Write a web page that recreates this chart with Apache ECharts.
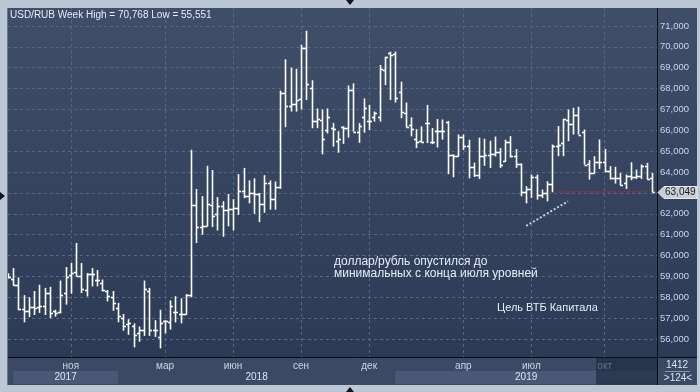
<!DOCTYPE html>
<html>
<head>
<meta charset="utf-8">
<script src="https://cdn.jsdelivr.net/npm/echarts@6/dist/echarts.min.js"></script>
<style>
html, body { margin: 0; padding: 0; background: #bcc7d6; }
#main { width: 700px; height: 392px; }
</style>
</head>
<body>
<div id="main"></div>
<script>
// weekly USD/RUB bars, Sep 2017 - Nov 2019
var open = [59.05, 58.88, 58.60, 57.42, 57.35, 57.55, 57.55, 57.60, 58.20, 57.34,
    57.30, 58.20, 59.05, 59.20, 59.00, 58.35, 59.13, 58.84, 58.70, 58.30,
    58.00, 57.50, 57.00, 56.70, 56.60, 56.30, 56.45, 58.30, 56.45, 56.10,
    56.85, 56.80, 57.30, 57.20, 57.20, 58.12, 62.40, 61.35, 61.40, 62.40,
    62.00, 62.35, 62.20, 62.25, 62.30, 63.10, 62.85, 63.00, 62.95, 62.45,
    63.50, 62.70, 63.30, 67.80, 67.15, 67.25, 67.50, 69.95, 68.05, 66.45,
    66.50, 66.00, 66.10, 65.50, 66.15, 66.10, 67.93, 65.94, 66.66, 66.45,
    66.66, 66.66, 68.89, 69.69, 69.64, 67.85, 66.85, 66.26, 65.58, 65.50,
    66.35, 65.46, 65.98, 65.96, 66.40, 64.80, 64.75, 65.70, 65.25, 64.25,
    63.85, 64.75, 64.80, 64.85, 64.95, 64.55, 65.45, 64.76, 64.40, 63.05,
    63.20, 63.75, 62.90, 63.00, 63.45, 65.25, 65.40, 66.50, 66.30, 66.75,
    65.90, 64.40, 63.95, 64.50, 64.50, 64.05, 63.70, 63.70, 63.50, 63.80,
    63.75, 63.80, 64.30, 63.70];
var high = [59.15, 59.40, 58.95, 58.10, 58.00, 58.30, 58.60, 58.45, 58.50, 57.40,
    58.80, 59.45, 59.64, 60.60, 59.64, 59.16, 59.40, 59.30, 58.85, 58.35,
    58.30, 57.73, 57.20, 56.95, 56.75, 56.60, 58.80, 58.45, 56.90, 57.40,
    56.90, 57.85, 58.05, 57.95, 58.15, 65.07, 63.19, 62.85, 64.30, 64.10,
    62.80, 62.60, 62.95, 62.70, 63.90, 64.20, 63.60, 63.70, 63.00, 63.85,
    63.60, 63.55, 67.90, 69.40, 69.00, 68.95, 70.10, 70.77, 68.40, 67.05,
    67.00, 67.05, 66.35, 65.95, 66.20, 68.15, 68.25, 66.35, 67.53, 67.22,
    66.90, 69.13, 69.53, 69.77, 69.77, 68.33, 67.33, 66.62, 66.06, 66.19,
    67.22, 66.11, 66.54, 66.52, 66.45, 64.85, 65.80, 65.80, 65.55, 64.45,
    65.65, 65.60, 65.50, 65.70, 65.15, 65.55, 65.72, 65.10, 64.41, 63.32,
    63.88, 63.88, 63.16, 63.56, 65.32, 66.20, 66.55, 67.00, 67.08, 67.13,
    66.04, 64.57, 64.76, 65.56, 65.11, 64.28, 64.25, 63.96, 63.88, 64.47,
    64.12, 64.36, 64.44, 63.96];
var low = [58.90, 58.55, 57.38, 56.80, 57.05, 57.15, 57.25, 57.15, 57.00, 57.07,
    57.23, 57.65, 58.17, 59.00, 58.20, 58.04, 58.52, 58.52, 58.28, 57.80,
    57.35, 56.80, 56.40, 56.20, 55.60, 55.87, 56.15, 56.15, 56.10, 55.55,
    56.27, 56.45, 56.80, 56.75, 57.17, 58.00, 60.60, 61.00, 61.40, 61.37,
    61.20, 60.90, 61.40, 61.20, 61.95, 62.75, 62.50, 62.00, 61.60, 62.05,
    62.20, 62.20, 63.20, 66.15, 66.90, 66.90, 67.00, 67.45, 66.10, 66.10,
    64.85, 65.85, 65.22, 64.93, 65.35, 65.65, 65.94, 65.40, 65.89, 66.02,
    66.42, 66.42, 68.17, 67.45, 67.33, 66.58, 66.14, 65.71, 65.15, 65.42,
    65.39, 65.34, 65.18, 65.56, 63.90, 63.75, 64.75, 65.05, 63.70, 63.77,
    63.67, 64.30, 64.20, 64.75, 64.20, 64.50, 64.70, 64.20, 62.84, 62.50,
    62.76, 62.68, 62.76, 62.60, 63.03, 64.76, 64.76, 65.48, 65.80, 65.80,
    64.36, 63.64, 63.93, 64.15, 63.99, 63.64, 63.45, 63.35, 63.19, 63.61,
    63.67, 63.67, 63.64, 63.03];
var close = [58.96, 58.60, 57.45, 57.35, 57.55, 57.50, 57.60, 58.20, 57.25, 57.26,
    58.10, 58.95, 59.15, 59.00, 58.40, 59.10, 59.13, 58.84, 58.35, 58.04,
    57.73, 57.10, 56.64, 56.77, 56.20, 56.45, 58.40, 56.45, 56.45, 56.75,
    56.85, 57.60, 57.30, 57.20, 58.12, 62.44, 61.35, 61.40, 62.45, 61.90,
    62.35, 62.20, 62.25, 62.30, 63.10, 62.85, 63.00, 62.95, 62.45, 63.50,
    62.70, 63.30, 67.80, 67.15, 67.25, 67.45, 69.95, 68.20, 66.45, 66.55,
    65.60, 66.65, 66.05, 65.60, 66.10, 67.93, 65.94, 66.21, 67.06, 66.45,
    66.85, 68.92, 69.50, 69.61, 67.53, 66.90, 66.14, 66.06, 65.46, 65.46,
    66.35, 65.42, 65.95, 65.96, 64.80, 64.75, 65.70, 65.25, 64.25, 63.85,
    64.75, 64.80, 64.85, 64.95, 64.35, 65.45, 64.76, 64.40, 63.05, 63.20,
    63.75, 62.90, 63.00, 63.45, 65.25, 65.30, 66.55, 66.30, 66.75, 65.80,
    64.36, 63.95, 64.50, 64.50, 64.05, 63.70, 63.70, 63.40, 63.80, 63.75,
    63.80, 64.30, 63.65, 63.049];

// bar index where each month label / grid line sits
var monthLabels = { 12: 'ноя', 30: 'мар', 43: 'июн', 56: 'сен', 69: 'дек', 87: 'апр', 100: 'июл', 114: 'окт' };
var years = [
    { name: '2017', from: 1, to: 21, shade: true },
    { name: '2018', from: 21, to: 74, shade: false },
    { name: '2019', from: 74, to: 124, shade: true }
];
var yTicks = [56, 57, 58, 59, 60, 61, 62, 63, 64, 65, 66, 67, 68, 69, 70, 71];
var lastPrice = 63.049;
var lastLine = [[105, 63.049], [122, 63.049]];
var noteLine = [[99, 61.42], [107, 62.6]];

var weeks = [];
for (var k = 0; k < 125; k++) weeks.push(String(k));

var ohlc = open.map(function (o, i) {
    return [i, o, close[i], low[i], high[i]];
});

var FONT = "'Liberation Sans', Arial, sans-serif";
var gridColor = '#56668a';

var dom = document.getElementById('main');
var chart = echarts.init(dom, null, { renderer: 'canvas' });

function isMonth(i) {
    return monthLabels[i] !== undefined;
}

function renderBar(params, api) {
    var i = api.value(0);
    var pO = api.coord([i, api.value(1)]);
    var pC = api.coord([i, api.value(2)]);
    var pL = api.coord([i, api.value(3)]);
    var pH = api.coord([i, api.value(4)]);
    var x = Math.round(pO[0]) + 0.5;
    var yo = Math.round(pO[1]) + 0.5;
    var yc = Math.round(pC[1]) + 0.5;
    var st = { stroke: '#ffffff', lineWidth: 1.6 };
    return {
        type: 'group',
        children: [
            { type: 'line', shape: { x1: x, y1: pH[1], x2: x, y2: pL[1] }, style: st },
            { type: 'line', shape: { x1: x - 2.5, y1: yo, x2: x, y2: yo }, style: st },
            { type: 'line', shape: { x1: x, y1: yc, x2: x + 2.5, y2: yc }, style: st }
        ]
    };
}

chart.setOption({
    animation: false,
    backgroundColor: '#bcc7d6',
    grid: { left: 8, right: 43, top: 8, bottom: 35 },
    xAxis: {
        type: 'category',
        data: weeks,
        boundaryGap: false,
        axisLine: { show: false },
        axisTick: { show: false },
        axisLabel: {
            interval: function (i) { return isMonth(i); },
            formatter: function (v, i) { return monthLabels[i] || ''; },
            color: '#c9d5e6',
            fontSize: 10,
            fontFamily: FONT,
            margin: 4
        },
        splitLine: {
            show: true,
            interval: function (i) { return isMonth(i); },
            lineStyle: { color: gridColor, type: [3, 3], width: 1 }
        }
    },
    yAxis: {
        type: 'value',
        position: 'right',
        min: 55.1375,
        max: 71.8625,
        axisLine: { show: false },
        axisTick: { show: false, customValues: yTicks },
        axisLabel: {
            customValues: yTicks,
            formatter: function (v) { return v.toFixed(3).replace('.', ','); },
            color: '#c4d6ee',
            fontSize: 9.5,
            fontFamily: FONT,
            margin: 3
        },
        splitLine: { show: true, lineStyle: { color: gridColor, type: [3, 3], width: 1 } }
    },
    series: [
        {
            type: 'custom',
            renderItem: renderBar,
            data: ohlc,
            encode: { x: 0, y: [1, 2, 3, 4] },
            clip: true,
            z: 3
        },
        {
            type: 'line',
            data: lastLine,
            symbol: 'none',
            lineStyle: { color: '#d02828', width: 1, type: [3, 2] },
            z: 2
        },
        {
            type: 'line',
            data: noteLine,
            symbol: 'none',
            lineStyle: { color: '#c8d0dc', width: 2, type: [2, 2] },
            z: 2
        }
    ]
});

function px(i) { return chart.convertToPixel({ xAxisIndex: 0 }, i); }
function py(v) { return chart.convertToPixel({ yAxisIndex: 0 }, v); }

var plotGrad = new echarts.graphic.LinearGradient(0, 0, 0, 1, [
    { offset: 0, color: '#404e6a' },
    { offset: 1, color: '#2c3a56' }
]);

var g = [];
g.push({ type: 'rect', z: -10, shape: { x: 8, y: 8, width: 689, height: 349 }, style: { fill: plotGrad } });
g.push({ type: 'rect', z: -10, shape: { x: 8, y: 357, width: 689, height: 28 }, style: { fill: '#3b4965' } });

years.forEach(function (y) {
    var x0 = px(y.from), x1 = px(y.to);
    if (y.shade) {
        g.push({ type: 'rect', z: -9, shape: { x: x0, y: 371, width: x1 - x0, height: 13 }, style: { fill: '#4a5875' } });
    }
    g.push({
        type: 'text', z: 5, x: (x0 + x1) / 2, y: 377,
        style: { text: y.name, fill: '#dbe4f2', font: '10px ' + FONT, align: 'center', verticalAlign: 'middle' }
    });
});

// dimmed right part of the date strip
var xd = (px(112) + px(113)) / 2;
g.push({ type: 'rect', z: 6, shape: { x: xd, y: 358, width: 657 - xd, height: 26 }, style: { fill: 'rgba(28,38,60,0.6)', stroke: '#26324a', lineWidth: 1 } });

// panel borders
g.push({ type: 'line', z: 7, shape: { x1: 657.5, y1: 8, x2: 657.5, y2: 385 }, style: { stroke: '#0c0f16', lineWidth: 1 } });
g.push({ type: 'line', z: 7, shape: { x1: 8, y1: 357.5, x2: 697, y2: 357.5 }, style: { stroke: '#0c0f16', lineWidth: 1 } });
g.push({ type: 'line', z: 7, shape: { x1: 7.5, y1: 8, x2: 7.5, y2: 385 }, style: { stroke: '#6c788c', lineWidth: 1 } });

// bar counter box
g.push({ type: 'text', z: 7, x: 677, y: 365, style: { text: '1412', fill: '#dbe4f2', font: '10px ' + FONT, align: 'center', verticalAlign: 'middle' } });
g.push({ type: 'line', z: 7, shape: { x1: 665, y1: 371.5, x2: 690, y2: 371.5 }, style: { stroke: '#8896ad', lineWidth: 1 } });
g.push({ type: 'text', z: 7, x: 678, y: 378, style: { text: '>124<', fill: '#dbe4f2', font: '10px ' + FONT, align: 'center', verticalAlign: 'middle' } });

// last price tag
var yp = Math.round(py(lastPrice)) + 0.5;
g.push({
    type: 'polygon', z: 8,
    shape: { points: [[658, yp], [664, yp - 6], [697, yp - 6], [697, yp + 6], [664, yp + 6]] },
    style: { fill: '#c9ced7', stroke: '#e8ebf0', lineWidth: 1 }
});
g.push({ type: 'text', z: 9, x: 665, y: yp, style: { text: '63,049', fill: '#1c1c1c', font: '10px ' + FONT, verticalAlign: 'middle' } });

// texts
g.push({ type: 'text', z: 9, x: 10, y: 15, style: { text: 'USD/RUB Week High = 70,768 Low = 55,551', fill: '#e6ecf6', font: '10px ' + FONT, verticalAlign: 'middle' } });
g.push({ type: 'text', z: 9, x: 334, y: 262, style: { text: 'доллар/рубль опустился до', fill: '#e6ecf6', font: '12px ' + FONT, verticalAlign: 'middle' } });
g.push({ type: 'text', z: 9, x: 334, y: 274, style: { text: 'минимальных с конца июля уровней', fill: '#e6ecf6', font: '12px ' + FONT, verticalAlign: 'middle' } });
g.push({ type: 'text', z: 9, x: 497, y: 308, style: { text: 'Цель ВТБ Капитала', fill: '#e6ecf6', font: '11px ' + FONT, verticalAlign: 'middle' } });

// frame arrows
g.push({ type: 'polygon', z: 9, shape: { points: [[346, 0], [354, 0], [350, 5]] }, style: { fill: '#10141c' } });
g.push({ type: 'polygon', z: 9, shape: { points: [[346, 392], [354, 392], [350, 387]] }, style: { fill: '#10141c' } });
g.push({ type: 'polygon', z: 9, shape: { points: [[0, 192], [0, 200], [5, 196]] }, style: { fill: '#10141c' } });

chart.setOption({ graphic: g });
</script>
</body>
</html>
